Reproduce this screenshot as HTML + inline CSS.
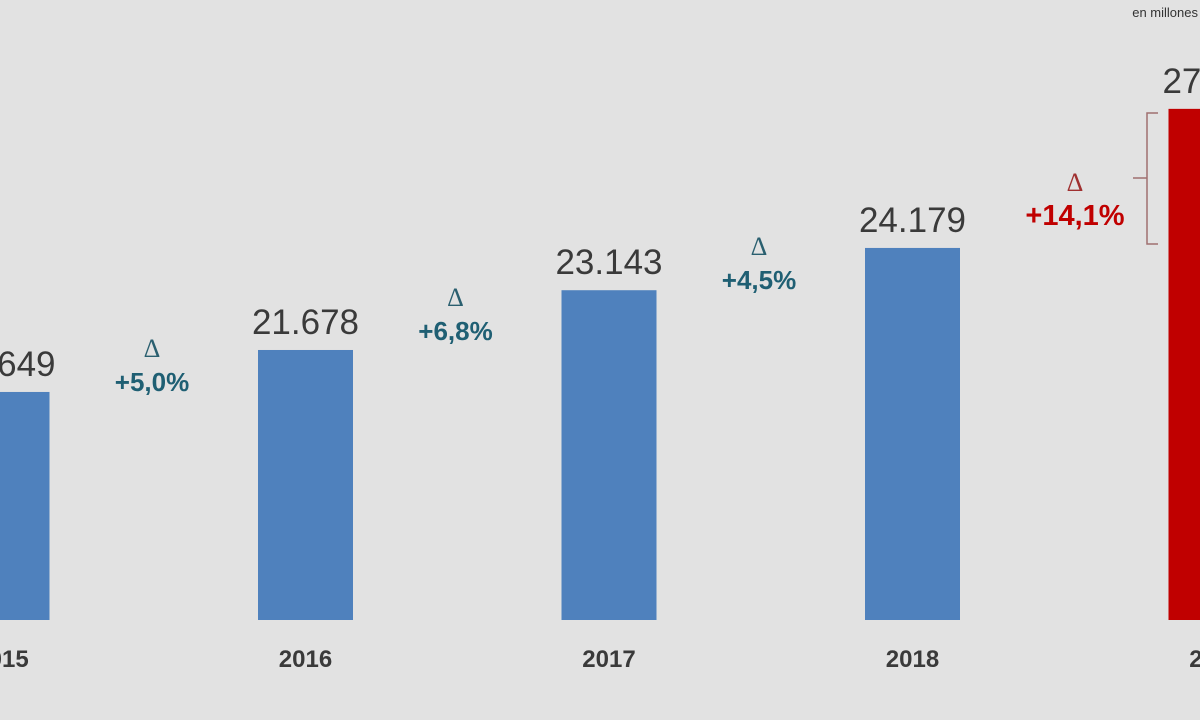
<!DOCTYPE html>
<html><head><meta charset="utf-8"><style>
body{margin:0;background:#e2e2e2;}
svg{display:block;font-family:"Liberation Sans",sans-serif;}
</style></head><body>
<svg id="chart" width="1200" height="720" viewBox="0 0 1200 720">
<rect width="1200" height="720" fill="#e2e2e2"/>
<text x="1198" y="17" text-anchor="end" font-size="13" fill="#333">en millones</text>
<g id="bars"></g>
</svg>
<script>
const years=["2015","2016","2017","2018","2019"];
const values=[20649,21678,23143,24179,27588];
const labels=["20.649","21.678","23.143","24.179","27.588"];
const deltas=["+5,0%","+6,8%","+4,5%","+14,1%"];
const svgNS="http://www.w3.org/2000/svg";
const g=document.getElementById("bars");
const x=i=>2+i*303.5;
const y=v=>620-(v-15060)*0.0408;
function el(t,a,txt){const e=document.createElementNS(svgNS,t);for(const k in a)e.setAttribute(k,a[k]);if(txt)e.textContent=txt;g.appendChild(e);return e;}
years.forEach((yr,i)=>{
  const top=y(values[i]);
  const r=el("rect",{x:x(i)-47.5,y:top,width:95,height:620-top,fill:i==4?"#c00000":"#4f81bd"});
  
  
  const v=el("text",{x:x(i),y:top-16,"text-anchor":"middle","font-size":35,fill:"#3a3a3a"},labels[i]);
  
  
  const t=el("text",{x:x(i),y:667,"text-anchor":"middle","font-size":24,"font-weight":"bold",fill:"#3a3a3a"},yr);
  
  
});
deltas.forEach((d,i)=>{
  const last=i==3;
  const cx=last?1075:x(i)+150;
  const cy=last?225:(y(values[i])+y(values[i+1]))/2+20;
  const col=last?"#c00000":"#1f5f73";
  const a=el("text",{x:cx,y:cy-34,"text-anchor":"middle","font-size":26,"font-family":"Liberation Serif,serif",fill:last?"#a03030":"#2a5f6f"},"Δ");
  
  
  const p=el("text",{x:cx,y:cy,"text-anchor":"middle","font-size":last?29:26,"font-weight":"bold",fill:col},d);
  
  
});
const b=el("path",{d:"M1158 113 L1147 113 L1147 244 L1158 244 M1147 178 L1133 178",stroke:"#a07070","stroke-width":1.5,fill:"none"});


</script>
</body></html>
